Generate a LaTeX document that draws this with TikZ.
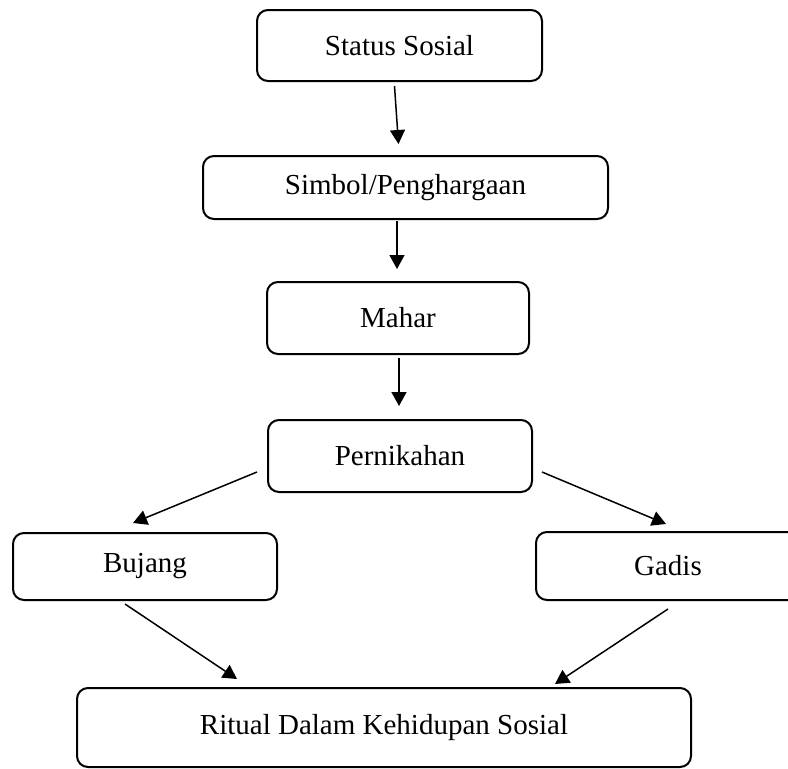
\documentclass[tikz,border=0pt]{standalone}
\usepackage{fontspec}
\setmainfont{Liberation Serif}
\usetikzlibrary{calc, positioning}
\usetikzlibrary{arrows.meta}

\tikzset{
  box/.style={draw=black, line width=2pt, rounded corners=11pt, align=center,
    inner sep=0pt, font=\fontsize{29}{34}\selectfont},
  arr/.style={line width=1.5pt, -{Triangle[length=14pt,width=15pt]}}
}

\begin{document}
\begin{tikzpicture}[x=1pt,y=-1pt]
\useasboundingbox (0,0) rectangle (788,769);
\node[box, minimum width=285pt, minimum height=71pt] (status) at (399.5,45.5) {Status Sosial};
\node[box, minimum width=405pt, minimum height=63pt] (simbol) at (405.5,187.5) {Simbol/Penghargaan};
\node[box, minimum width=262pt, minimum height=72pt] (mahar) at (398,318) {Mahar};
\node[box, minimum width=264pt, minimum height=72pt] (nikah) at (400,456) {Pernikahan};
\node[box, minimum width=264pt, minimum height=67pt] (bujang) at (145,566.5) {Bujang};
\node[box, minimum width=264pt, minimum height=68pt] (gadis) at (668,566) {Gadis};
\node[box, minimum width=614pt, minimum height=79pt] (ritual) at (384,727.5) {Ritual Dalam Kehidupan Sosial};

\draw[arr] ([xshift=-5pt,yshift=-4pt]status.south) -- ([xshift=-7pt,yshift=11pt]simbol.north);
\draw[arr] ([xshift=-8.5pt,yshift=-1pt]simbol.south) -- ([xshift=-1pt,yshift=12pt]mahar.north);
\draw[arr] ([xshift=1pt,yshift=-3pt]mahar.south) -- ([xshift=-1pt,yshift=13pt]nikah.north);
\draw[arr] ([xshift=-10pt,yshift=-16pt]nikah.west) -- ([xshift=-12pt,yshift=9pt]bujang.north);
\draw[arr] ([xshift=9pt,yshift=-16pt]nikah.east) -- ([xshift=-2pt,yshift=7pt]gadis.north);
\draw[arr] ([xshift=-20pt,yshift=-3pt]bujang.south) -- ([xshift=-147pt,yshift=8pt]ritual.north);
\draw[arr] ([yshift=-8pt]gadis.south) -- ([xshift=171pt,yshift=3pt]ritual.north);
\end{tikzpicture}
\end{document}
